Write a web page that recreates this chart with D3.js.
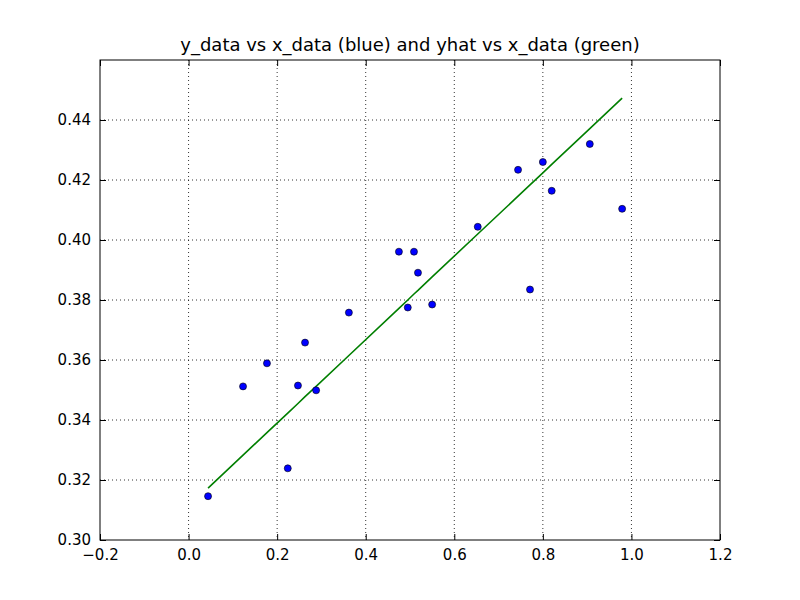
<!DOCTYPE html>
<html><head><meta charset="utf-8">
<script src="https://cdn.jsdelivr.net/npm/d3@7"></script>
<style>body{margin:0;background:#fff}text{font-family:"DejaVu Sans",sans-serif}</style>
</head><body><svg id="c" width="800" height="600"></svg>
<script>
const xData=[0.044,0.123,0.177,0.224,0.247,0.263,0.288,0.362,0.475,0.495,0.509,0.518,0.550,0.653,0.744,0.771,0.800,0.820,0.906,0.979];
const yData=[0.3146,0.3512,0.3589,0.3239,0.3515,0.3658,0.3499,0.3758,0.3961,0.3775,0.3961,0.3891,0.3785,0.4044,0.4234,0.3835,0.4260,0.4164,0.4320,0.4104];
const yhat=[0.3173,0.3283,0.3358,0.3423,0.3455,0.3478,0.3512,0.3615,0.3772,0.3800,0.3820,0.3832,0.3877,0.4020,0.4146,0.4184,0.4224,0.4252,0.4371,0.4473];
const xTicks=[-0.2,0,0.2,0.4,0.6,0.8,1.0,1.2];
const yTicks=[0.30,0.32,0.34,0.36,0.38,0.40,0.42,0.44];
const L=100,R=720,T=60,B=540;
const svg=d3.select("#c");
const x=d3.scaleLinear().domain([-0.2,1.2]).range([L,R]);
const y=d3.scaleLinear().domain([0.30,0.46]).range([B,T]);
const g=svg.append("g");
xTicks.forEach(t=>{if(t>-0.2&&t<1.2)g.append("line").attr("x1",x(t)).attr("x2",x(t)).attr("y1",T).attr("y2",B).attr("stroke","#000").attr("stroke-dasharray","1,3").attr("stroke-width",0.8);});
yTicks.forEach(t=>{if(t>0.30)g.append("line").attr("x1",L).attr("x2",R).attr("y1",y(t)).attr("y2",y(t)).attr("stroke","#000").attr("stroke-dasharray","1,3").attr("stroke-width",0.8);});
svg.append("g").attr("transform",`translate(0,${B})`).call(d3.axisBottom(x).tickValues(xTicks).tickFormat(d3.format(".1f")).tickSizeInner(-6).tickSizeOuter(0).tickPadding(9));
svg.append("g").attr("transform",`translate(${L},0)`).call(d3.axisLeft(y).tickValues(yTicks).tickFormat(d3.format(".2f")).tickSizeInner(-6).tickSizeOuter(0).tickPadding(9));
svg.append("g").attr("transform",`translate(0,${T})`).call(d3.axisTop(x).tickValues(xTicks).tickFormat("").tickSizeInner(-6).tickSizeOuter(0));
svg.append("g").attr("transform",`translate(${R},0)`).call(d3.axisRight(y).tickValues(yTicks).tickFormat("").tickSizeInner(-6).tickSizeOuter(0));
svg.selectAll(".domain").remove();
svg.selectAll(".tick text").attr("font-size",15).attr("fill","#000").attr("font-family","DejaVu Sans");
svg.selectAll(".tick line").attr("stroke","#000");
const pts=xData.map((d,i)=>({x:d,y:yData[i],h:yhat[i]}));
svg.append("path").datum(pts).attr("fill","none").attr("stroke","#007f00").attr("stroke-width",1.6)
 .attr("d",d3.line().x(d=>x(d.x)).y(d=>y(d.h)));
svg.selectAll("circle").data(pts).join("circle").attr("cx",d=>x(d.x)).attr("cy",d=>y(d.y)).attr("r",3.5).attr("fill","#0000ff").attr("stroke","#000").attr("stroke-width",0.6);
svg.append("rect").attr("x",L).attr("y",T).attr("width",R-L).attr("height",B-T).attr("fill","none").attr("stroke","#000").attr("stroke-width",1);
svg.append("text").attr("x",(L+R)/2).attr("y",T-9).attr("text-anchor","middle").attr("font-size",18).text("y_data vs x_data (blue) and yhat vs x_data (green)");
</script></body></html>
